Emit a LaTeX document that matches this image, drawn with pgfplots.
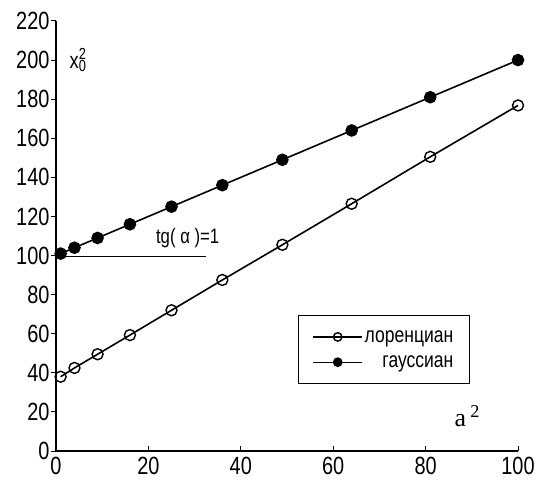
\documentclass[border=0pt]{standalone}
\usepackage{fontspec}
\setmainfont{Liberation Sans}[FakeStretch=0.8]
\newfontfamily\serif{Liberation Serif}
\usepackage{pgfplots}
\pgfplotsset{compat=1.18}
\newcommand\tickfont{\fontsize{25}{28}\selectfont}

\begin{document}
\begin{tikzpicture}
\begin{axis}[
    scale only axis,
    width=462bp, height=430bp,
    xmin=0, xmax=100, ymin=0, ymax=220,
    axis lines*=left,
    axis line style={line width=1.2bp},
    xtick={0,20,...,100},
    ytick={0,20,...,220},
    xticklabel={\tickfont\pgfmathprintnumber[assume math mode=true]{\tick}},
    yticklabel={\tickfont\pgfmathprintnumber[assume math mode=true]{\tick}},
    tick align=inside,
    major tick length=5bp,
    tick style={line width=1bp, black},
    y tick style={xshift=-5bp},
    yticklabel style={xshift=-3bp},
    xticklabel style={yshift=-3bp},
    clip=false,
    legend style={at={(axis description cs:0.524,0.317)}, anchor=north west,
        draw=black, line width=1.2bp, font=\fontsize{22}{24}\selectfont,
        inner xsep=14bp, inner ysep=13bp, row sep=8bp,
        cells={anchor=east}},
    legend cell align=right,
    legend image code/.code={
        \draw[#1, line width=1.3bp, mark=none] (0cm,0cm) -- (1.72cm,0cm);
        \draw[#1, line width=1.3bp, mark size=4.2bp] plot coordinates {(0.86cm,0cm)};
    },
]
\addplot[black, line width=1.6bp, mark=o, mark size=5.5bp, mark options={line width=1.4bp, fill=white}]
  coordinates {(1,38) (4,42.5) (9,49.5) (16,59.3) (25,72) (36,87.5) (49,105.5) (64,126.5) (81,150.5) (100,176.8)};
\addlegendentry{лоренциан}
\addplot[black, line width=1.6bp, mark=*, mark size=5.5bp]
  coordinates {(1,101) (4,104) (9,109) (16,116) (25,125) (36,136) (49,149) (64,164) (81,181) (100,200)};
\addlegendentry{гауссиан}
\draw[line width=0.8bp] (axis cs:0,99.5) -- (axis cs:32.5,99.5);
\node[font=\fontsize{21}{24}\selectfont] at (axis cs:28.5,109) {tg( α )=1};
\node[anchor=west, font=\fontsize{23}{26}\selectfont] at (axis cs:2.2,200) {x\rlap{\textsuperscript{2}}\textsubscript{0}};
\node[anchor=west, font=\serif\fontsize{26}{28}\selectfont] at (axis cs:85.5,18) {a\,\textsuperscript{2}};
\end{axis}
\pgfresetboundingbox
\path (-56bp,-31bp) rectangle (484bp,451bp);
\end{tikzpicture}
\end{document}
